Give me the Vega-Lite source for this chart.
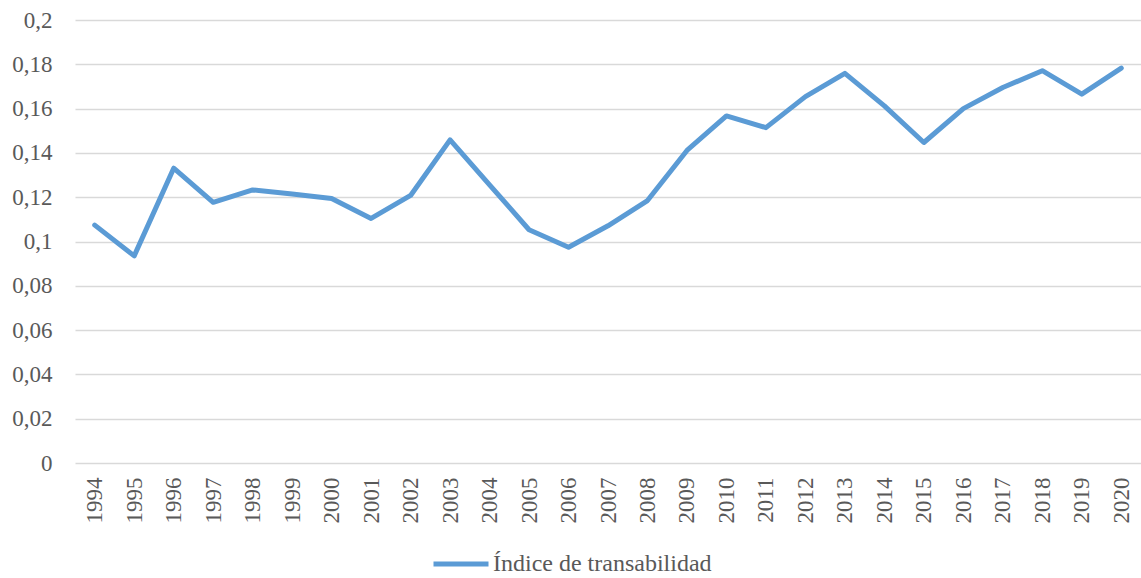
{
  "$schema": "https://vega.github.io/schema/vega-lite/v6.json",
  "autosize": {"type": "none"},
  "width": 1066,
  "height": 443,
  "padding": {"left": 75, "top": 20, "right": 0, "bottom": 115},
  "background": "#ffffff",
  "config": {
    "view": {"stroke": null},
    "font": "Liberation Serif"
  },
  "data": {
    "values": [
      {"year": "1994", "value": 0.1074, "serie": "Índice de transabilidad"},
      {"year": "1995", "value": 0.0935, "serie": "Índice de transabilidad"},
      {"year": "1996", "value": 0.1331, "serie": "Índice de transabilidad"},
      {"year": "1997", "value": 0.1177, "serie": "Índice de transabilidad"},
      {"year": "1998", "value": 0.1233, "serie": "Índice de transabilidad"},
      {"year": "1999", "value": 0.1214, "serie": "Índice de transabilidad"},
      {"year": "2000", "value": 0.1194, "serie": "Índice de transabilidad"},
      {"year": "2001", "value": 0.1104, "serie": "Índice de transabilidad"},
      {"year": "2002", "value": 0.1208, "serie": "Índice de transabilidad"},
      {"year": "2003", "value": 0.1459, "serie": "Índice de transabilidad"},
      {"year": "2004", "value": 0.1256, "serie": "Índice de transabilidad"},
      {"year": "2005", "value": 0.1053, "serie": "Índice de transabilidad"},
      {"year": "2006", "value": 0.0974, "serie": "Índice de transabilidad"},
      {"year": "2007", "value": 0.1071, "serie": "Índice de transabilidad"},
      {"year": "2008", "value": 0.1185, "serie": "Índice de transabilidad"},
      {"year": "2009", "value": 0.1411, "serie": "Índice de transabilidad"},
      {"year": "2010", "value": 0.1567, "serie": "Índice de transabilidad"},
      {"year": "2011", "value": 0.1514, "serie": "Índice de transabilidad"},
      {"year": "2012", "value": 0.1654, "serie": "Índice de transabilidad"},
      {"year": "2013", "value": 0.1759, "serie": "Índice de transabilidad"},
      {"year": "2014", "value": 0.1612, "serie": "Índice de transabilidad"},
      {"year": "2015", "value": 0.1447, "serie": "Índice de transabilidad"},
      {"year": "2016", "value": 0.1600, "serie": "Índice de transabilidad"},
      {"year": "2017", "value": 0.1695, "serie": "Índice de transabilidad"},
      {"year": "2018", "value": 0.1771, "serie": "Índice de transabilidad"},
      {"year": "2019", "value": 0.1665, "serie": "Índice de transabilidad"},
      {"year": "2020", "value": 0.1783, "serie": "Índice de transabilidad"}
    ]
  },
  "mark": {"type": "line", "strokeWidth": 5, "strokeJoin": "round", "strokeCap": "round"},
  "encoding": {
    "x": {
      "field": "year",
      "type": "ordinal",
      "scale": {"type": "point", "padding": 0.5},
      "axis": {
        "title": null,
        "domain": false,
        "ticks": false,
        "grid": false,
        "labelAngle": -90,
        "labelPadding": 14,
        "labelFont": "Liberation Serif",
        "labelFontSize": 23,
        "labelColor": "#595959"
      }
    },
    "y": {
      "field": "value",
      "type": "quantitative",
      "scale": {"domain": [0, 0.2], "nice": false},
      "axis": {
        "title": null,
        "values": [0, 0.02, 0.04, 0.06, 0.08, 0.1, 0.12, 0.14, 0.16, 0.18, 0.2],
        "labelExpr": "replace(format(datum.value, '.2~f'), '.', ',')",
        "domain": false,
        "ticks": false,
        "grid": true,
        "gridColor": "#D9D9D9",
        "gridWidth": 1.5,
        "labelPadding": 23,
        "labelFont": "Liberation Serif",
        "labelFontSize": 23,
        "labelColor": "#595959"
      }
    },
    "color": {
      "field": "serie",
      "type": "nominal",
      "scale": {"range": ["#5B9BD5"]},
      "legend": {
        "title": null,
        "orient": "none",
        "legendX": 374,
        "legendY": 532,
        "padding": 0,
        "symbolType": "M-5,0H5",
        "symbolSize": 121,
        "symbolStrokeWidth": 5,
        "symbolFillColor": "transparent",
        "labelOffset": 20,
        "labelFont": "Liberation Serif",
        "labelFontSize": 24,
        "labelColor": "#595959",
        "labelLimit": 400
      }
    }
  }
}
